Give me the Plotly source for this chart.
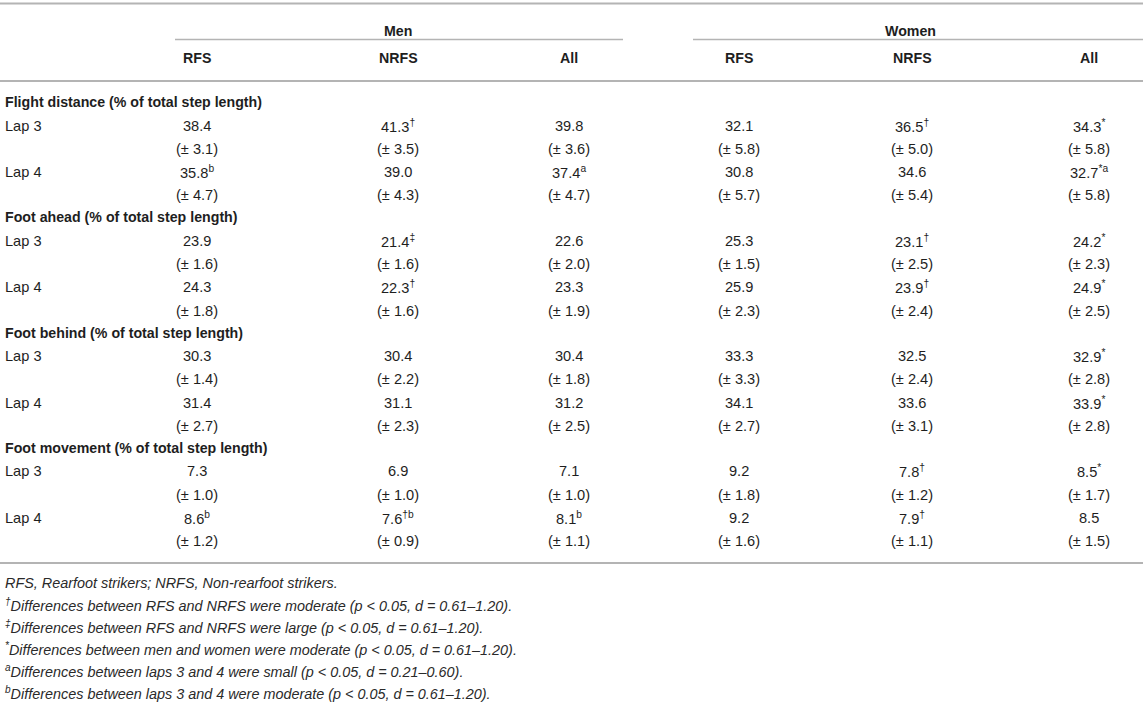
import plotly.graph_objects as go

# ---------------- data ----------------
groups = ["Men", "Women"]
subcols = ["RFS", "NRFS", "All"]
sections = [
    "Flight distance (% of total step length)",
    "Foot ahead (% of total step length)",
    "Foot behind (% of total step length)",
    "Foot movement (% of total step length)",
]
laps = ["Lap 3", "Lap 4"]

men_rfs_mean = [38.4, 35.8, 23.9, 24.3, 30.3, 31.4, 7.3, 8.6]
men_rfs_sd = [3.1, 4.7, 1.6, 1.8, 1.4, 2.7, 1.0, 1.2]
men_rfs_sup = ["", "b", "", "", "", "", "", "b"]

men_nrfs_mean = [41.3, 39.0, 21.4, 22.3, 30.4, 31.1, 6.9, 7.6]
men_nrfs_sd = [3.5, 4.3, 1.6, 1.6, 2.2, 2.3, 1.0, 0.9]
men_nrfs_sup = ["†", "", "‡", "†", "", "", "", "†b"]

men_all_mean = [39.8, 37.4, 22.6, 23.3, 30.4, 31.2, 7.1, 8.1]
men_all_sd = [3.6, 4.7, 2.0, 1.9, 1.8, 2.5, 1.0, 1.1]
men_all_sup = ["", "a", "", "", "", "", "", "b"]

women_rfs_mean = [32.1, 30.8, 25.3, 25.9, 33.3, 34.1, 9.2, 9.2]
women_rfs_sd = [5.8, 5.7, 1.5, 2.3, 3.3, 2.7, 1.8, 1.6]
women_rfs_sup = ["", "", "", "", "", "", "", ""]

women_nrfs_mean = [36.5, 34.6, 23.1, 23.9, 32.5, 33.6, 7.8, 7.9]
women_nrfs_sd = [5.0, 5.4, 2.5, 2.4, 2.4, 3.1, 1.2, 1.1]
women_nrfs_sup = ["†", "", "†", "†", "", "", "†", "†"]

women_all_mean = [34.3, 32.7, 24.2, 24.9, 32.9, 33.9, 8.5, 8.5]
women_all_sd = [5.8, 5.8, 2.3, 2.5, 2.8, 2.8, 1.7, 1.5]
women_all_sup = ["*", "*a", "*", "*", "*", "*", "*", ""]

footnotes = [
    ("", "RFS, Rearfoot strikers; NRFS, Non-rearfoot strikers."),
    ("†", "Differences between RFS and NRFS were moderate (p < 0.05, d = 0.61–1.20)."),
    ("‡", "Differences between RFS and NRFS were large (p < 0.05, d = 0.61–1.20)."),
    ("*", "Differences between men and women were moderate (p < 0.05, d = 0.61–1.20)."),
    ("a", "Differences between laps 3 and 4 were small (p < 0.05, d = 0.21–0.60)."),
    ("b", "Differences between laps 3 and 4 were moderate (p < 0.05, d = 0.61–1.20)."),
]

columns = [
    (men_rfs_mean, men_rfs_sd, men_rfs_sup),
    (men_nrfs_mean, men_nrfs_sd, men_nrfs_sup),
    (men_all_mean, men_all_sd, men_all_sup),
    (women_rfs_mean, women_rfs_sd, women_rfs_sup),
    (women_nrfs_mean, women_nrfs_sd, women_nrfs_sup),
    (women_all_mean, women_all_sd, women_all_sup),
]

# ---------------- layout / style ----------------
W, H = 1143, 714
FONT = "Liberation Sans, Arial, Helvetica, sans-serif"
TXT = "#1e1e1e"
LINE = "#b4b4b4"
FS = 14.6
FSH = 14.2
FSN = 14.4
col_x = [197, 398, 569, 739, 912, 1089]
group_x = [398, 910]
group_span = [(175, 623), (693, 1143)]
y_group = 31
y_sub = 58
y_sec0 = 102
sec_step = 115.3
lap_offsets = [23.5, 70]
sd_offset = 23.3
y_foot0 = 583
foot_step = 21.9

fig = go.Figure()
fig.add_trace(go.Scatter(x=[0, W], y=[0, H], mode="markers",
                         marker=dict(opacity=0), hoverinfo="skip", showlegend=False))

ann = []
shapes = []

def text(x, y, s, anchor="center", size=FS, color=TXT):
    ann.append(dict(x=x, y=y, xref="x", yref="y", text=s, showarrow=False,
                    xanchor=anchor, yanchor="middle",
                    font=dict(family=FONT, size=size, color=color)))

def hline(x0, x1, y, w=1.6):
    shapes.append(dict(type="line", xref="x", yref="y", x0=x0, x1=x1, y0=y, y1=y,
                       line=dict(color=LINE, width=w)))

hline(0, W, 3.5, 2)
for g, gx, (a, b) in zip(groups, group_x, group_span):
    text(gx, y_group, f"<b>{g}</b>", size=FSH)
    hline(a, b, 39.5)
for i, cx in enumerate(col_x):
    text(cx, y_sub, f"<b>{subcols[i % 3]}</b>", size=FSH)
hline(0, W, 81, 2)

for s, sec in enumerate(sections):
    ys = y_sec0 + s * sec_step
    text(3, ys, f"<b>{sec}</b>", anchor="left", size=FSH)
    for l, lap in enumerate(laps):
        r = s * 2 + l
        yl = ys + lap_offsets[l]
        text(3, yl, lap, anchor="left")
        for cx, (mean, sd, sup) in zip(col_x, columns):
            m = f"{mean[r]:.1f}"
            if sup[r]:
                m += f"<sup>{sup[r]}</sup>"
            text(cx, yl, m)
            text(cx, yl + sd_offset, f"(± {sd[r]:.1f})")

hline(0, W, 563, 2)

for i, (mark, note) in enumerate(footnotes):
    y = y_foot0 + i * foot_step
    s = f"<i>{note}</i>"
    if mark:
        s = f"<sup><i>{mark}</i></sup>" + s
    text(3, y, s, anchor="left", size=FSN, color="#2a2a2a")

fig.update_layout(
    width=W, height=H,
    margin=dict(l=0, r=0, t=0, b=0),
    paper_bgcolor="white", plot_bgcolor="white",
    xaxis=dict(range=[0, W], visible=False, fixedrange=True),
    yaxis=dict(range=[H, 0], visible=False, fixedrange=True),
    annotations=ann, shapes=shapes, showlegend=False,
)

fig.write_html(
    "out.html",
    config={"displayModeBar": False},
    post_script="document.body.style.margin='0';document.body.style.overflow='hidden';",
)
